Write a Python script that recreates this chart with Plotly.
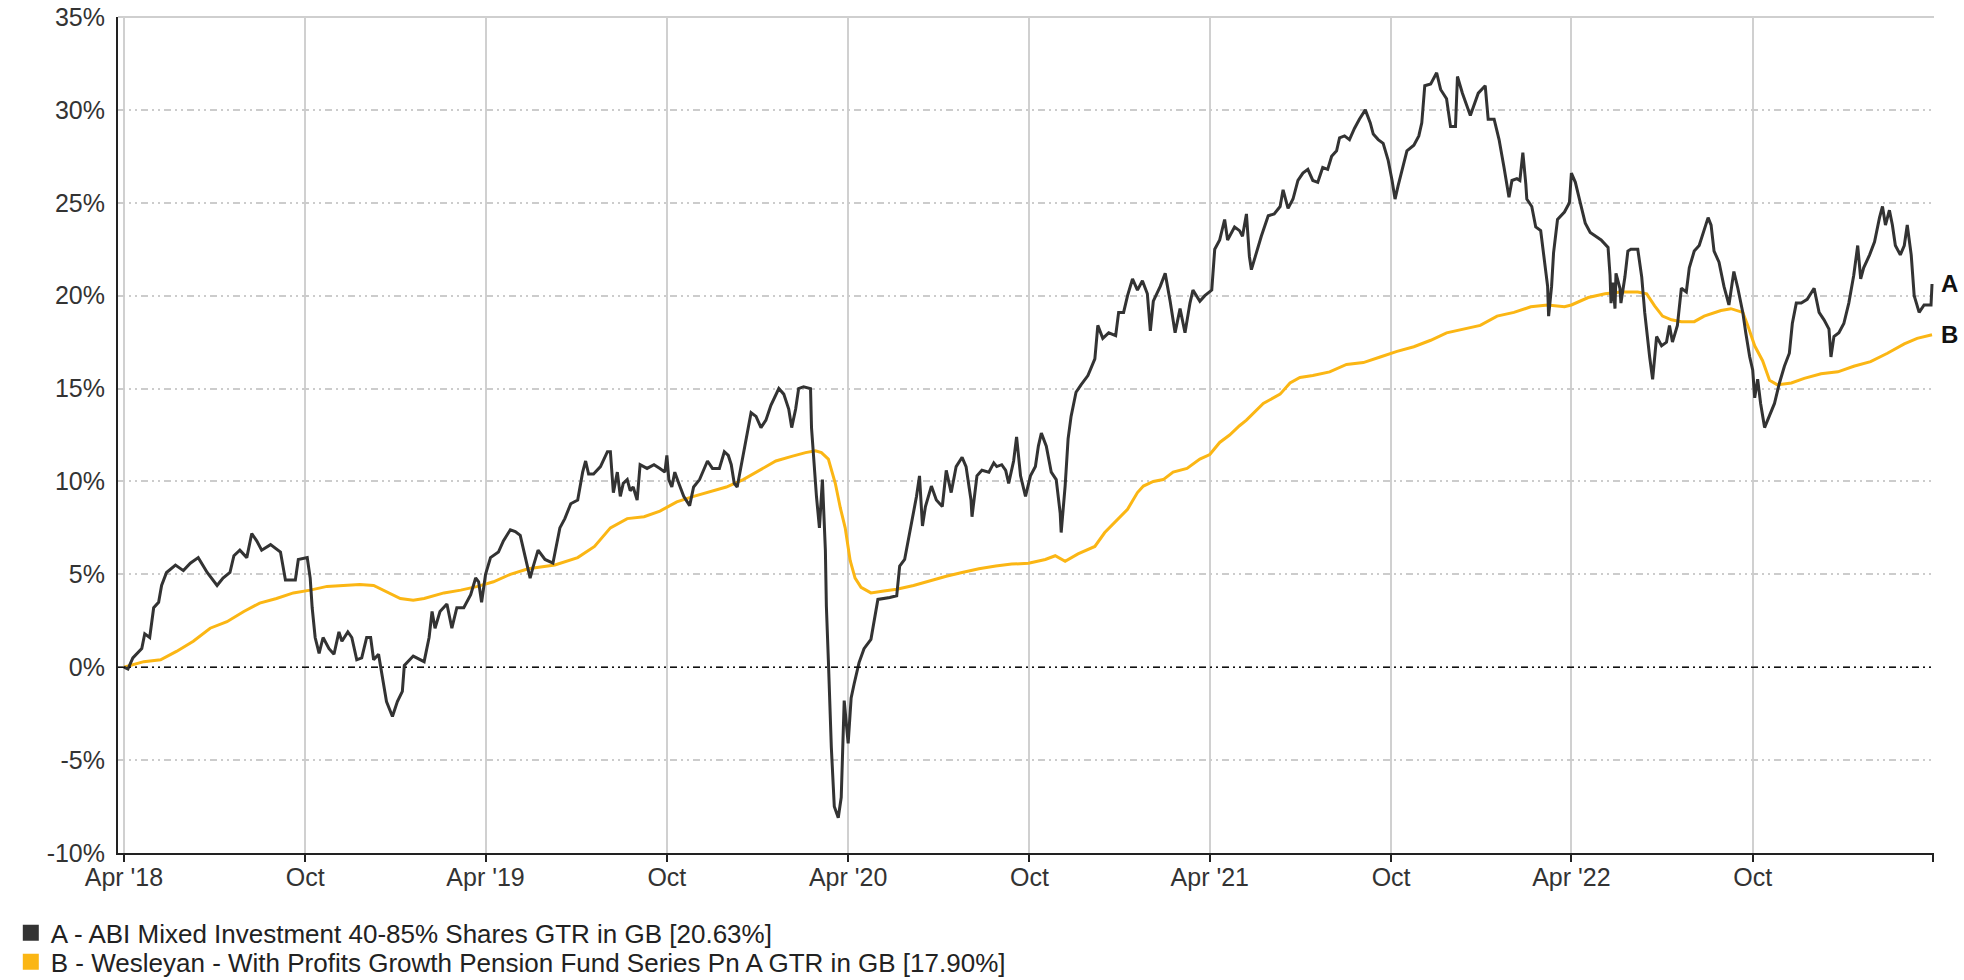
import plotly.graph_objects as go

# ---------------- data ----------------
a_dates = [
    "2018-04-01", "2018-04-05", "2018-04-10", "2018-04-19", "2018-04-22", "2018-04-27",
    "2018-05-01", "2018-05-06", "2018-05-09", "2018-05-14", "2018-05-23", "2018-05-31",
    "2018-06-07", "2018-06-15", "2018-06-24", "2018-07-04", "2018-07-10", "2018-07-17",
    "2018-07-21", "2018-07-27", "2018-08-03", "2018-08-08", "2018-08-13", "2018-08-18",
    "2018-08-27", "2018-09-06", "2018-09-11", "2018-09-21", "2018-09-24", "2018-10-03",
    "2018-10-06", "2018-10-08", "2018-10-11", "2018-10-15", "2018-10-19", "2018-10-25",
    "2018-10-30", "2018-11-04", "2018-11-07", "2018-11-13", "2018-11-17", "2018-11-22",
    "2018-11-27", "2018-12-02", "2018-12-06", "2018-12-09", "2018-12-14", "2018-12-17",
    "2018-12-22", "2018-12-28", "2019-01-02", "2019-01-07", "2019-01-09", "2019-01-18",
    "2019-01-29", "2019-02-03", "2019-02-06", "2019-02-09", "2019-02-14", "2019-02-21",
    "2019-02-26", "2019-03-03", "2019-03-10", "2019-03-17", "2019-03-22", "2019-03-25",
    "2019-03-28", "2019-04-01", "2019-04-06", "2019-04-14", "2019-04-19", "2019-04-26",
    "2019-05-01", "2019-05-06", "2019-05-11", "2019-05-16", "2019-05-19", "2019-05-24",
    "2019-05-31", "2019-06-08", "2019-06-15", "2019-06-20", "2019-06-26", "2019-07-03",
    "2019-07-08", "2019-07-11", "2019-07-14", "2019-07-19", "2019-07-26", "2019-08-02",
    "2019-08-05", "2019-08-08", "2019-08-12", "2019-08-15", "2019-08-18", "2019-08-22",
    "2019-08-25", "2019-08-28", "2019-09-01", "2019-09-04", "2019-09-11", "2019-09-18",
    "2019-09-24", "2019-09-29", "2019-10-01", "2019-10-03", "2019-10-06", "2019-10-09",
    "2019-10-13", "2019-10-18", "2019-10-24", "2019-10-28", "2019-11-03", "2019-11-11",
    "2019-11-16", "2019-11-23", "2019-11-28", "2019-12-02", "2019-12-05", "2019-12-08",
    "2019-12-11", "2019-12-15", "2019-12-20", "2019-12-25", "2019-12-30", "2020-01-04",
    "2020-01-09", "2020-01-14", "2020-01-22", "2020-01-27", "2020-02-01", "2020-02-04",
    "2020-02-08", "2020-02-11", "2020-02-16", "2020-02-23", "2020-02-24", "2020-02-26",
    "2020-02-29", "2020-03-03", "2020-03-06", "2020-03-09", "2020-03-10", "2020-03-12",
    "2020-03-15", "2020-03-18", "2020-03-22", "2020-03-25", "2020-03-28", "2020-04-01",
    "2020-04-04", "2020-04-07", "2020-04-12", "2020-04-17", "2020-04-24", "2020-05-01",
    "2020-05-13", "2020-05-20", "2020-05-23", "2020-05-28", "2020-06-02", "2020-06-05",
    "2020-06-09", "2020-06-12", "2020-06-15", "2020-06-18", "2020-06-24", "2020-06-29",
    "2020-07-05", "2020-07-09", "2020-07-14", "2020-07-19", "2020-07-25", "2020-07-29",
    "2020-08-03", "2020-08-04", "2020-08-09", "2020-08-14", "2020-08-21", "2020-08-26",
    "2020-08-29", "2020-09-03", "2020-09-07", "2020-09-10", "2020-09-15", "2020-09-18",
    "2020-09-22", "2020-09-27", "2020-10-02", "2020-10-07", "2020-10-10", "2020-10-13",
    "2020-10-18", "2020-10-23", "2020-10-28", "2020-11-01", "2020-11-02", "2020-11-06",
    "2020-11-09", "2020-11-12", "2020-11-17", "2020-11-22", "2020-11-29", "2020-12-06",
    "2020-12-09", "2020-12-14", "2020-12-20", "2020-12-27", "2020-12-30", "2021-01-04",
    "2021-01-08", "2021-01-13", "2021-01-18", "2021-01-23", "2021-01-28", "2021-01-31",
    "2021-02-03", "2021-02-10", "2021-02-15", "2021-02-20", "2021-02-25", "2021-03-02",
    "2021-03-07", "2021-03-12", "2021-03-15", "2021-03-22", "2021-03-27", "2021-04-03",
    "2021-04-06", "2021-04-11", "2021-04-16", "2021-04-19", "2021-04-26", "2021-05-01",
    "2021-05-04", "2021-05-08", "2021-05-11", "2021-05-13", "2021-05-18", "2021-05-23",
    "2021-05-30", "2021-06-05", "2021-06-11", "2021-06-14", "2021-06-19", "2021-06-24",
    "2021-06-29", "2021-07-04", "2021-07-09", "2021-07-14", "2021-07-19", "2021-07-24",
    "2021-07-29", "2021-08-02", "2021-08-07", "2021-08-10", "2021-08-15", "2021-08-20",
    "2021-08-25", "2021-08-30", "2021-09-05", "2021-09-10", "2021-09-13", "2021-09-18",
    "2021-09-23", "2021-09-28", "2021-10-02", "2021-10-05", "2021-10-08", "2021-10-12",
    "2021-10-17", "2021-10-24", "2021-10-29", "2021-11-01", "2021-11-04", "2021-11-10",
    "2021-11-16", "2021-11-20", "2021-11-26", "2021-11-30", "2021-12-05", "2021-12-07",
    "2021-12-12", "2021-12-20", "2021-12-28", "2022-01-04", "2022-01-07", "2022-01-13",
    "2022-01-18", "2022-01-23", "2022-01-28", "2022-01-31", "2022-02-05", "2022-02-08",
    "2022-02-11", "2022-02-14", "2022-02-15", "2022-02-20", "2022-02-24", "2022-03-01",
    "2022-03-04", "2022-03-08", "2022-03-09", "2022-03-12", "2022-03-14", "2022-03-18",
    "2022-03-25", "2022-03-30", "2022-04-01", "2022-04-05", "2022-04-10", "2022-04-15",
    "2022-04-20", "2022-05-01", "2022-05-08", "2022-05-10", "2022-05-11", "2022-05-13",
    "2022-05-15", "2022-05-16", "2022-05-20", "2022-05-21", "2022-05-25", "2022-05-28",
    "2022-05-31", "2022-06-07", "2022-06-11", "2022-06-14", "2022-06-19", "2022-06-22",
    "2022-06-26", "2022-07-01", "2022-07-06", "2022-07-09", "2022-07-12", "2022-07-17",
    "2022-07-21", "2022-07-26", "2022-07-29", "2022-08-03", "2022-08-08", "2022-08-13",
    "2022-08-17", "2022-08-20", "2022-08-23", "2022-08-28", "2022-09-02", "2022-09-07",
    "2022-09-12", "2022-09-16", "2022-09-21", "2022-09-24", "2022-09-28", "2022-10-01",
    "2022-10-03", "2022-10-06", "2022-10-09", "2022-10-13", "2022-10-18", "2022-10-23",
    "2022-10-28", "2022-11-02", "2022-11-07", "2022-11-10", "2022-11-14", "2022-11-19",
    "2022-11-25", "2022-12-02", "2022-12-07", "2022-12-12", "2022-12-17", "2022-12-19",
    "2022-12-22", "2022-12-27", "2023-01-01", "2023-01-06", "2023-01-11", "2023-01-15",
    "2023-01-18", "2023-01-21", "2023-01-27", "2023-02-01", "2023-02-06", "2023-02-09",
    "2023-02-12", "2023-02-16", "2023-02-19", "2023-02-22", "2023-02-27", "2023-03-03",
    "2023-03-06", "2023-03-10", "2023-03-13", "2023-03-18", "2023-03-23", "2023-03-30",
    "2023-03-31",
]
a_values = [
    0.0, -0.1, 0.5, 1.0, 1.8, 1.6,
    3.2, 3.5, 4.4, 5.1, 5.5, 5.2,
    5.6, 5.9, 5.1, 4.4, 4.8, 5.1,
    6.0, 6.3, 5.9, 7.2, 6.8, 6.3,
    6.6, 6.2, 4.7, 4.7, 5.8, 5.9,
    4.8, 3.2, 1.6, 0.75, 1.6, 1.0,
    0.7, 1.9, 1.4, 1.9, 1.6, 0.4,
    0.5, 1.6, 1.6, 0.4, 0.7, -0.2,
    -1.85, -2.65, -1.85, -1.3, 0.1, 0.6,
    0.3, 1.6, 3.0, 2.1, 3.0, 3.4,
    2.1, 3.2, 3.2, 3.9, 4.8, 4.6,
    3.5, 5.0, 5.9, 6.2, 6.8, 7.4,
    7.3, 7.1, 5.9, 4.8, 5.4, 6.3,
    5.8, 5.6, 7.5, 8.0, 8.8, 9.0,
    10.5, 11.1, 10.4, 10.4, 10.8, 11.6,
    11.6, 9.4, 10.5, 9.2, 9.9, 10.1,
    9.5, 9.7, 9.0, 10.9, 10.7, 10.9,
    10.7, 10.5, 11.4, 10.1, 9.7, 10.5,
    9.9, 9.2, 8.7, 9.7, 10.1, 11.1,
    10.7, 10.7, 11.6, 11.4, 10.9, 9.9,
    9.7, 10.9, 12.4, 13.7, 13.5, 12.9,
    13.3, 14.1, 15.0, 14.7, 13.9, 12.9,
    13.9, 15.0, 15.1, 15.0, 12.9, 11.2,
    9.2, 7.5, 10.1, 6.3, 3.3, 0.4,
    -4.3, -7.5, -8.1, -7.0, -1.8, -4.1,
    -1.65, -0.9, 0.25, 1.0, 1.5, 3.65,
    3.75, 3.85, 5.45, 5.8, 7.25, 8.1,
    9.2, 10.3, 7.6, 8.65, 9.75, 9.0,
    8.65, 10.6, 9.4, 10.8, 11.3, 10.8,
    9.0, 8.1, 10.3, 10.6, 10.5, 11.0,
    10.8, 10.9, 10.6, 9.9, 11.1, 12.4,
    10.3, 9.2, 10.3, 10.8, 11.9, 12.6,
    11.9, 10.5, 10.1, 8.3, 7.25, 9.75,
    12.3, 13.5, 14.8, 15.2, 15.7, 16.6,
    18.4, 17.7, 18.0, 17.85, 19.1, 19.1,
    20.0, 20.9, 20.3, 20.8, 20.1, 18.1,
    19.7, 20.5, 21.2, 19.7, 18.0, 19.3,
    18.0, 19.6, 20.3, 19.7, 20.0, 20.3,
    22.5, 23.0, 24.1, 23.0, 23.7, 23.5,
    23.2, 24.4, 22.1, 21.4, 22.3, 23.2,
    24.3, 24.4, 24.8, 25.7, 24.7, 25.2,
    26.2, 26.6, 26.8, 26.2, 26.1, 26.9,
    26.8, 27.5, 27.8, 28.5, 28.6, 28.4,
    29.0, 29.5, 30.0, 29.3, 28.7, 28.4,
    28.2, 27.3, 26.2, 25.2, 25.9, 26.8,
    27.8, 28.1, 28.6, 29.3, 31.3, 31.4,
    32.0, 31.1, 30.6, 29.1, 29.1, 31.8,
    30.9, 29.7, 30.9, 31.3, 29.5, 29.5,
    28.4, 26.9, 25.3, 26.2, 26.3, 26.2,
    27.7, 26.0, 25.2, 24.8, 23.7, 23.5,
    22.1, 20.5, 18.9, 20.5, 22.3, 24.1,
    24.5, 25.0, 26.6, 26.1, 25.0, 23.9,
    23.4, 23.0, 22.6, 21.1, 19.6, 20.7,
    19.3, 21.2, 20.4, 19.6, 21.0, 22.4,
    22.5, 22.5, 21.0, 19.1, 16.7, 15.5,
    17.8, 17.3, 17.5, 18.4, 17.5, 18.4,
    20.4, 20.2, 21.5, 22.4, 22.7, 23.6,
    24.2, 23.8, 22.4, 21.8, 20.5, 19.5,
    21.3, 20.4, 19.1, 18.0, 16.7, 16.0,
    14.5, 15.5, 14.2, 12.9, 13.6, 14.2,
    15.3, 16.2, 16.9, 18.5, 19.6, 19.6,
    19.8, 20.4, 19.1, 18.7, 18.2, 16.7,
    17.8, 18.0, 18.5, 19.6, 21.1, 22.7,
    20.9, 21.5, 22.2, 22.9, 24.2, 24.8,
    23.8, 24.6, 23.8, 22.7, 22.2, 22.7,
    23.8, 22.2, 20.0, 19.1, 19.5, 19.5,
    20.63,
]

b_dates = [
    "2018-04-01", "2018-04-21", "2018-05-08", "2018-05-24", "2018-06-10", "2018-06-27",
    "2018-07-14", "2018-07-31", "2018-08-16", "2018-09-02", "2018-09-19", "2018-10-06",
    "2018-10-23", "2018-11-09", "2018-11-25", "2018-12-09", "2018-12-22", "2019-01-05",
    "2019-01-18", "2019-01-29", "2019-02-18", "2019-03-07", "2019-03-24", "2019-04-09",
    "2019-04-26", "2019-05-14", "2019-06-10", "2019-07-03", "2019-07-20", "2019-08-05",
    "2019-08-22", "2019-09-08", "2019-09-24", "2019-10-11", "2019-10-28", "2019-11-13",
    "2019-11-30", "2019-12-17", "2020-01-02", "2020-01-19", "2020-02-04", "2020-02-18",
    "2020-02-28", "2020-03-05", "2020-03-12", "2020-03-19", "2020-03-24", "2020-03-29",
    "2020-04-03", "2020-04-08", "2020-04-14", "2020-04-24", "2020-05-07", "2020-05-20",
    "2020-06-06", "2020-06-22", "2020-07-09", "2020-07-25", "2020-08-11", "2020-08-28",
    "2020-09-13", "2020-09-30", "2020-10-17", "2020-10-27", "2020-11-06", "2020-11-19",
    "2020-12-06", "2020-12-16", "2020-12-29", "2021-01-08", "2021-01-18", "2021-01-24",
    "2021-02-03", "2021-02-13", "2021-02-23", "2021-03-09", "2021-03-22", "2021-04-01",
    "2021-04-11", "2021-04-21", "2021-05-01", "2021-05-08", "2021-05-25", "2021-06-11",
    "2021-06-21", "2021-07-01", "2021-07-14", "2021-07-31", "2021-08-17", "2021-09-03",
    "2021-09-20", "2021-10-07", "2021-10-24", "2021-11-10", "2021-11-26", "2021-12-13",
    "2021-12-30", "2022-01-16", "2022-02-02", "2022-02-19", "2022-03-08", "2022-03-25",
    "2022-04-01", "2022-04-18", "2022-05-05", "2022-05-21", "2022-06-07", "2022-06-16",
    "2022-06-24", "2022-07-02", "2022-07-11", "2022-07-21", "2022-08-03", "2022-08-13",
    "2022-08-30", "2022-09-09", "2022-09-21", "2022-09-26", "2022-10-03", "2022-10-11",
    "2022-10-18", "2022-10-26", "2022-11-09", "2022-11-22", "2022-12-09", "2022-12-26",
    "2023-01-11", "2023-01-28", "2023-02-14", "2023-03-03", "2023-03-16", "2023-03-31",
]
b_values = [
    0.0, 0.3, 0.4, 0.85, 1.4, 2.1,
    2.45, 3.0, 3.45, 3.7, 4.0, 4.15,
    4.35, 4.4, 4.45, 4.4, 4.05, 3.7,
    3.6, 3.7, 4.0, 4.15, 4.35, 4.6,
    5.0, 5.3, 5.5, 5.9, 6.5, 7.5,
    8.0, 8.1, 8.4, 8.9, 9.2, 9.45,
    9.7, 10.1, 10.6, 11.1, 11.35, 11.55,
    11.65, 11.55, 11.2, 9.9, 8.6, 7.5,
    5.75, 4.8, 4.3, 4.0, 4.1, 4.2,
    4.4, 4.65, 4.9, 5.1, 5.3, 5.45,
    5.55, 5.6, 5.8, 6.0, 5.7, 6.1,
    6.5, 7.25, 7.95, 8.5, 9.4, 9.75,
    10.0, 10.1, 10.5, 10.7, 11.2, 11.45,
    12.1, 12.5, 13.0, 13.3, 14.2, 14.7,
    15.3, 15.6, 15.7, 15.9, 16.3, 16.4,
    16.7, 17.0, 17.25, 17.6, 18.0, 18.2,
    18.4, 18.9, 19.1, 19.4, 19.5, 19.4,
    19.5, 19.9, 20.1, 20.2, 20.2, 20.1,
    19.45, 18.9, 18.7, 18.6, 18.6, 18.9,
    19.2, 19.3, 19.1, 18.4, 17.3, 16.5,
    15.45, 15.2, 15.3, 15.55, 15.8, 15.9,
    16.2, 16.45, 16.9, 17.4, 17.7, 17.9,
]

series_tags = ["A", "B"]
series_names = [
    "A - ABI Mixed Investment 40-85% Shares GTR in GB [20.63%]",
    "B - Wesleyan - With Profits Growth Pension Fund Series Pn A GTR in GB [17.90%]",
]

x_tick_dates = ["2018-04-01", "2018-10-01", "2019-04-01", "2019-10-01", "2020-04-01",
                "2020-10-01", "2021-04-01", "2021-10-01", "2022-04-01", "2022-10-01",
                "2023-04-01"]
x_tick_labels = ["Apr '18", "Oct", "Apr '19", "Oct", "Apr '20", "Oct", "Apr '21",
                 "Oct", "Apr '22", "Oct", ""]
y_tick_values = [-10, -5, 0, 5, 10, 15, 20, 25, 30, 35]
y_tick_labels = ["-10%", "-5%", "0%", "5%", "10%", "15%", "20%", "25%", "30%", "35%"]

# ---------------- style ----------------
colors = ["#333333", "#FBB614"]
FONT = "Liberation Sans, Arial, Helvetica, sans-serif"
GRID_DASH = "7px,4px,2px,4px,2px,4px"
legend_ids = ["legend", "legend2"]
legend_rows_y = [0.048, 0.0185]   # container fraction from bottom

fig = go.Figure()

series = [(a_dates, a_values), (b_dates, b_values)]
# draw B first so A is on top
for idx in [1, 0]:
    xs, ys = series[idx]
    fig.add_trace(go.Scatter(
        x=xs, y=ys, mode="lines",
        line=dict(color=colors[idx], width=3),
        showlegend=False, hoverinfo="skip",
    ))

# legend entries with square swatches (one legend box per row)
for idx in [0, 1]:
    fig.add_trace(go.Scatter(
        x=[None], y=[None], mode="markers",
        marker=dict(symbol="square", size=16, color=colors[idx]),
        name=series_names[idx], showlegend=True, legend=legend_ids[idx],
    ))

# end-of-line tags
for idx, (xs, ys) in enumerate(series):
    fig.add_annotation(
        xref="paper", yref="y", x=1, y=ys[-1], text="<b>%s</b>" % series_tags[idx],
        showarrow=False, xanchor="left", yanchor="middle", xshift=5,
        font=dict(family=FONT, size=24, color="#111111"),
    )

# dash-dot-dot zero line
fig.add_shape(type="line", xref="paper", yref="y", x0=0, x1=1, y0=0, y1=0,
              line=dict(color="#111111", width=1.6, dash=GRID_DASH), layer="above")
# light top border
fig.add_shape(type="line", xref="paper", yref="paper", x0=0, x1=1, y0=1, y1=1,
              line=dict(color="#cfcfcf", width=2), layer="below")

legend_style = dict(
    xref="container", yref="container", x=0.0055, xanchor="left", yanchor="middle",
    orientation="v", font=dict(family=FONT, size=26, color="#222222"),
    bgcolor="rgba(0,0,0,0)", borderwidth=0, itemwidth=30,
)

fig.update_layout(
    width=1964, height=980,
    margin=dict(l=118, r=30, t=17, b=127, autoexpand=False),
    paper_bgcolor="white", plot_bgcolor="white",
    font=dict(family=FONT, size=25, color="#333333"),
    legend=dict(legend_style, y=legend_rows_y[0]),
    legend2=dict(legend_style, y=legend_rows_y[1]),
    xaxis=dict(
        type="date", range=["2018-03-26", "2023-04-02"],
        tickmode="array", tickvals=x_tick_dates, ticktext=x_tick_labels,
        showgrid=True, gridcolor="#d0d0d0", gridwidth=1.5,
        showline=True, linecolor="#222222", linewidth=2,
        ticks="outside", ticklen=7, tickwidth=1.5, tickcolor="#222222",
        ticklabelstandoff=-6,
        tickfont=dict(family=FONT, size=25, color="#333333"),
        zeroline=False, automargin=False,
    ),
    yaxis=dict(
        range=[-10, 35], tickmode="array", tickvals=y_tick_values, ticktext=y_tick_labels,
        showgrid=True, gridcolor="#cccccc", gridwidth=1.5, griddash=GRID_DASH,
        showline=True, linecolor="#222222", linewidth=2,
        ticks="", ticklabelstandoff=6,
        tickfont=dict(family=FONT, size=25, color="#333333"),
        zeroline=False, automargin=False,
    ),
)

fig.write_html(
    "out.html",
    config={"displayModeBar": False},
    post_script="document.body.style.margin='0';document.body.style.overflow='hidden';",
)
